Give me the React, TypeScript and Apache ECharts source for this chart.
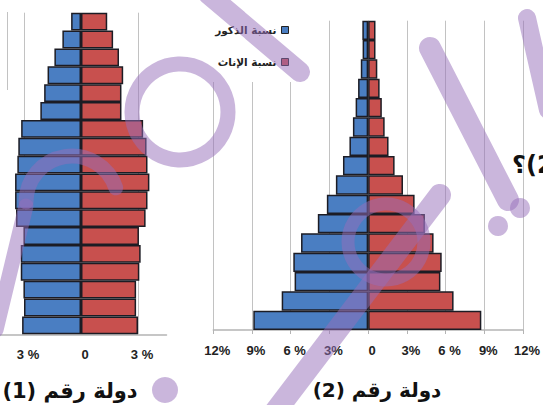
import React, { useEffect, useRef } from "react";
import * as echarts from "echarts";

// Country 1 (18 age groups, youngest first = bottom)
const ages1 = ["0-4","5-9","10-14","15-19","20-24","25-29","30-34","35-39","40-44","45-49","50-54","55-59","60-64","65-69","70-74","75-79","80-84","85+"];
const male1 = [3.1, 3.0, 3.03, 3.17, 3.17, 3.03, 3.42, 3.47, 3.47, 3.35, 3.3, 3.15, 2.14, 1.94, 1.76, 1.4, 0.98, 0.52];
const female1 = [3.0, 2.9, 2.9, 3.07, 3.14, 3.05, 3.4, 3.5, 3.6, 3.5, 3.45, 3.27, 2.13, 2.13, 2.22, 2.0, 1.69, 1.38];

// Country 2 (16 age groups)
const ages2 = ["0-4","5-9","10-14","15-19","20-24","25-29","30-34","35-39","40-44","45-49","50-54","55-59","60-64","65-69","70-74","75+"];
const male2 = [8.9, 6.7, 5.7, 5.8, 5.2, 3.9, 3.2, 2.5, 1.95, 1.45, 1.18, 0.97, 0.78, 0.57, 0.43, 0.45];
const female2 = [8.77, 6.62, 5.6, 5.7, 5.07, 4.4, 3.6, 2.7, 2.05, 1.58, 1.28, 1.06, 0.89, 0.71, 0.57, 0.57];

// gridlines of chart 1 (percent values)
const grid1Lines = [-3, 3];

const maleName = "نسبة الذكور";
const femaleName = "نسبة الإناث";
// written in display order for a left-to-right SVG text run
const title1 = "(1) دولة رقم";
const title2 = "(2) دولة رقم";
const question = "؟\u200E(2)";

const labels1: Record<string, string> = { "3": "3 %", "0": "0" };
const labels2: Record<string, string> = { "12": "12%", "9": "9%", "6": "6 %", "3": "3%", "0": "0" };

const BLUE = "#4A7EC2";
const RED = "#C8504E";
const EDGE = "#1c1c24";
const GRIDC = "#c2c2c2";
const WM = "rgba(150,110,185,0.5)";
const OFF = 10; // the chart div starts 10px left of the page

const X1_MIN = -4.5;
const X1_MAX = 4.5;
const G1_LEFT = OFF - 4.5;
const G1_W = 171;
const G1_TOP = 12.7;
const G1_H = 321.6;

export default function App() {
  const ref = useRef<HTMLDivElement>(null);
  useEffect(() => {
    if (!ref.current) return;
    const chart = echarts.init(ref.current, undefined, { renderer: "svg" });
    const barBase = {
      type: "bar" as const,
      barCategoryGap: "0%",
      barGap: "-100%",
    };
    const labelStyle = {
      color: "#222",
      fontWeight: "bold" as const,
      fontSize: 13,
      fontFamily: "Liberation Sans, Arial, sans-serif",
      padding: [0, 0, 0, 8],
    };
    const wmLine = (pts: number[][], w = 20) => ({
      type: "polyline",
      z: 20,
      silent: true,
      shape: { points: pts.map(([x, y]) => [x + OFF, y]) },
      style: { stroke: WM, lineWidth: w, lineCap: "round", lineJoin: "round", fill: null },
    });
    const itemStyle = (c: string) => ({ color: c, borderColor: EDGE, borderWidth: 1.5 });
    chart.setOption({
      animation: false,
      backgroundColor: "#fff",
      grid: [
        { left: G1_LEFT, top: G1_TOP, width: G1_W, height: G1_H, containLabel: false },
        { left: OFF + 213.3, top: 20.7, width: 312.4, height: 309.3, containLabel: false },
      ],
      legend: {
        data: [maleName, femaleName],
        orient: "vertical",
        right: 254,
        top: 24,
        padding: 0,
        align: "right",
        icon: "rect",
        itemGap: 20,
        itemWidth: 7,
        itemHeight: 7,
        selectedMode: false,
        z: 6,
        itemStyle: { borderColor: "#222", borderWidth: 1 },
        textStyle: { fontSize: 10.5, fontWeight: "bold", color: "#222", fontFamily: "DejaVu Sans, sans-serif", lineHeight: 12 },
      },
      xAxis: [
        {
          type: "value",
          gridIndex: 0,
          min: X1_MIN,
          max: X1_MAX,
          interval: 1.5,
          axisLine: { show: true, lineStyle: { color: "#b4b4b4", width: 1.5 } },
          axisTick: { show: false },
          splitLine: { show: false },
          axisLabel: {
            ...labelStyle,
            margin: 14,
            formatter: (v: number) => labels1[String(Math.abs(v))] ?? "",
          },
        },
        {
          type: "value",
          gridIndex: 1,
          min: -12,
          max: 12,
          interval: 3,
          axisLine: { show: true, lineStyle: { color: "#b4b4b4", width: 1.5 } },
          axisTick: { show: true, length: 4, lineStyle: { color: "#b4b4b4" } },
          splitLine: { show: true, lineStyle: { color: GRIDC, width: 1 } },
          axisLabel: {
            ...labelStyle,
            margin: 14,
            formatter: (v: number) => labels2[String(Math.abs(v))] ?? "",
          },
        },
      ],
      yAxis: [
        { type: "category", gridIndex: 0, data: ages1, show: false },
        { type: "category", gridIndex: 1, data: ages2, show: false },
      ],
      series: [
        { ...barBase, name: maleName, xAxisIndex: 0, yAxisIndex: 0, z: 2, data: male1.map((v) => -v), itemStyle: itemStyle(BLUE) },
        { ...barBase, name: femaleName, xAxisIndex: 0, yAxisIndex: 0, z: 2, data: female1, itemStyle: itemStyle(RED) },
        { ...barBase, name: maleName, xAxisIndex: 1, yAxisIndex: 1, z: 2, data: male2.map((v) => -v), itemStyle: itemStyle(BLUE) },
        { ...barBase, name: femaleName, xAxisIndex: 1, yAxisIndex: 1, z: 2, data: female2, itemStyle: itemStyle(RED) },
      ],
    });

    // gridlines of chart 1 placed through the axis scale
    const toX = (v: number) => {
      let x: any = chart.convertToPixel({ xAxisIndex: 0 }, v);
      if (Array.isArray(x)) x = x[0];
      if (typeof x !== "number" || !isFinite(x)) x = G1_LEFT + ((v - X1_MIN) / (X1_MAX - X1_MIN)) * G1_W;
      return x;
    };
    const gridLines1 = grid1Lines.map((v) => {
      const x = Math.round(toX(v)) + 0.5;
      return {
        type: "line", z: 1, silent: true,
        shape: { x1: x, y1: G1_TOP, x2: x, y2: G1_TOP + G1_H },
        style: { stroke: GRIDC, lineWidth: 1 },
      };
    });

    chart.setOption({
      graphic: [
        ...gridLines1,
        { type: "rect", z: 1, silent: true, shape: { x: OFF + 198, y: 0, width: 100, height: 82 }, style: { fill: "#fff" } },
        { type: "line", z: 1, silent: true, shape: { x1: OFF + 7.5, y1: 12, x2: OFF + 7.5, y2: 90 }, style: { stroke: GRIDC, lineWidth: 1 } },
        {
          type: "text", z: 5, x: OFF + 70, y: 391,
          style: { text: title1, font: 'bold 21px "DejaVu Sans", sans-serif', textAlign: "center", textVerticalAlign: "middle", fill: "#111" },
        },
        {
          type: "text", z: 5, x: OFF + 377, y: 390,
          style: { text: title2, font: 'bold 20px "DejaVu Sans", sans-serif', textAlign: "center", textVerticalAlign: "middle", fill: "#111" },
        },
        {
          type: "text", z: 5, x: OFF + 512, y: 165,
          style: { text: question, font: 'bold 24px "DejaVu Sans", sans-serif', textAlign: "left", textVerticalAlign: "middle", fill: "#111" },
        },
        wmLine([[275, 412], [440, 195]], 22),
        wmLine([[208, -6], [300, 72]], 20),
        wmLine([[430, 48], [508, 200]], 22),
        wmLine([[527, 18], [548, 110]], 18),
        wmLine([[26, 206], [-4, 330]], 15),
        { type: "circle", z: 20, silent: true, shape: { cx: OFF + 386, cy: 242, r: 38 }, style: { stroke: WM, lineWidth: 13, fill: null } },
        { type: "circle", z: 20, silent: true, shape: { cx: OFF + 498, cy: 226, r: 10 }, style: { fill: WM } },
        { type: "circle", z: 20, silent: true, shape: { cx: OFF + 520, cy: 208, r: 10 }, style: { fill: WM } },
        { type: "circle", z: 20, silent: true, shape: { cx: OFF + 165, cy: 390, r: 13 }, style: { fill: WM } },
        { type: "circle", z: 20, silent: true, shape: { cx: OFF + 180, cy: 112, r: 48 }, style: { stroke: WM, lineWidth: 15, fill: null } },
        { type: "arc", z: 20, silent: true, shape: { cx: OFF + 72, cy: 202, r: 46, startAngle: Math.PI, endAngle: Math.PI * 1.9, clockwise: true }, style: { stroke: WM, lineWidth: 15, fill: null, lineCap: "round" } },
      ],
    });
    return () => chart.dispose();
  }, []);
  return <div ref={ref} style={{ position: "fixed", left: -OFF, top: 0, width: 543 + OFF, height: 405 }} />;
}
